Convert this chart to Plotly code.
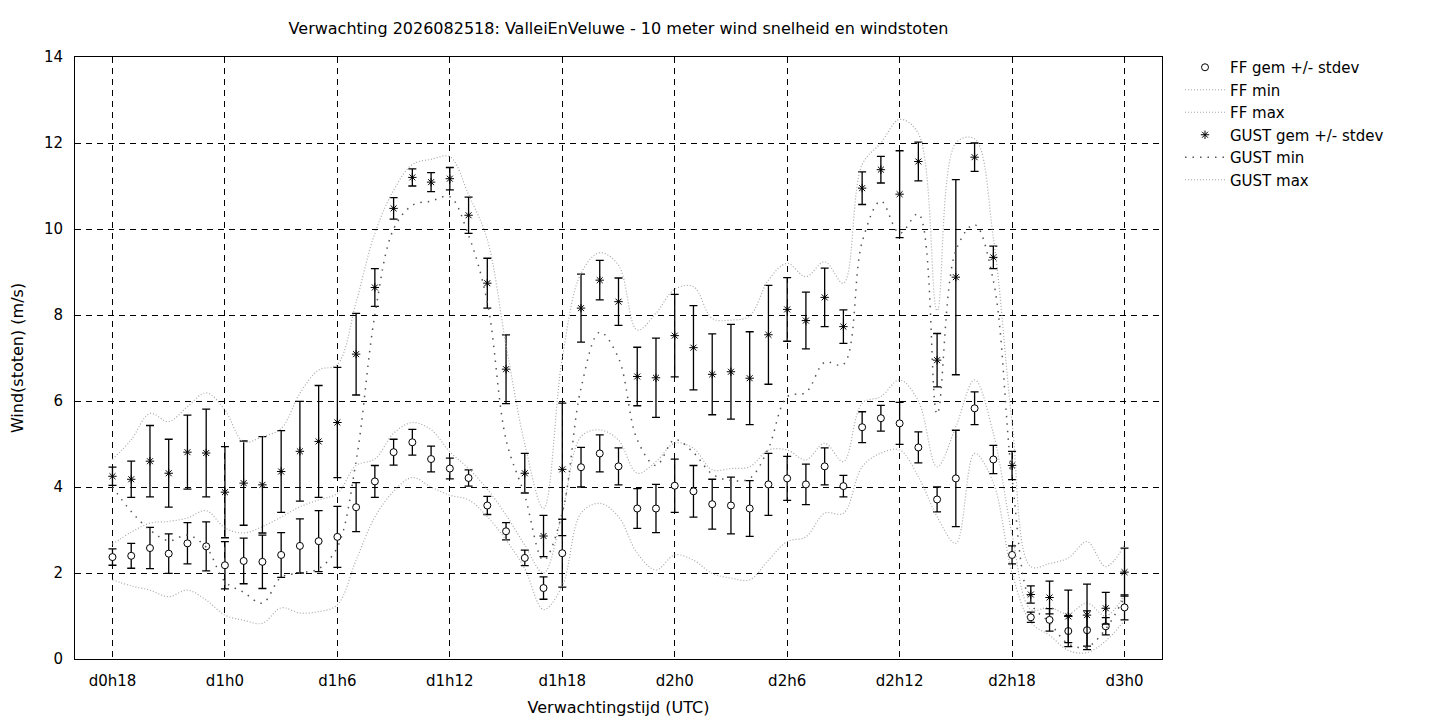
import plotly.graph_objects as go

# forecast hour (hours after d0h0)
hours = list(range(18, 73))

tick_vals = [18, 24, 30, 36, 42, 48, 54, 60, 66, 72]
tick_text = ["d0h18", "d1h0", "d1h6", "d1h12", "d1h18", "d2h0", "d2h6", "d2h12", "d2h18", "d3h0"]

ff_mean = [2.37, 2.40, 2.58, 2.45, 2.69, 2.62, 2.18, 2.28, 2.26, 2.42, 2.63, 2.74, 2.84, 3.53,
           4.13, 4.81, 5.04, 4.65, 4.43, 4.21, 3.57, 2.97, 2.35, 1.65, 2.46, 4.46, 4.78, 4.48,
           3.50, 3.50, 4.03, 3.90, 3.60, 3.57, 3.50, 4.06, 4.20, 4.06, 4.48, 4.02, 5.39, 5.60,
           5.48, 4.92, 3.71, 4.20, 5.83, 4.64, 2.42, 0.97, 0.91, 0.65, 0.67, 0.76, 1.20]
ff_sd = [0.19, 0.29, 0.48, 0.46, 0.48, 0.57, 0.55, 0.53, 0.62, 0.52, 0.63, 0.71, 0.71, 0.57,
         0.37, 0.30, 0.30, 0.30, 0.24, 0.19, 0.21, 0.20, 0.18, 0.26, 0.79, 0.46, 0.43, 0.43,
         0.46, 0.56, 0.62, 0.60, 0.58, 0.66, 0.65, 0.72, 0.51, 0.47, 0.43, 0.25, 0.36, 0.30,
         0.49, 0.36, 0.29, 1.12, 0.38, 0.33, 0.21, 0.12, 0.26, 0.36, 0.45, 0.20, 0.29]
ff_min = [1.84, 1.70, 1.60, 1.45, 1.60, 1.37, 1.02, 0.90, 0.83, 1.19, 1.07, 1.10, 1.26, 2.30,
          3.30, 3.90, 4.22, 4.00, 3.81, 3.70, 3.31, 2.77, 2.10, 1.15, 1.70, 3.39, 3.62, 3.31,
          2.46, 2.07, 2.42, 2.30, 1.99, 1.88, 1.84, 2.30, 2.73, 2.84, 3.39, 3.39, 4.47, 4.79,
          4.86, 4.24, 3.31, 2.69, 4.78, 4.10, 2.00, 0.85, 0.55, 0.20, 0.15, 0.42, 0.90]
ff_max = [2.67, 2.95, 3.16, 3.20, 3.28, 3.45, 3.05, 2.93, 3.08, 3.30, 3.54, 3.70, 3.85, 4.50,
          4.65, 5.25, 5.50, 5.33, 4.82, 4.43, 3.95, 3.35, 2.65, 2.00, 3.40, 5.17, 5.33, 5.09,
          4.32, 4.59, 5.02, 4.90, 4.40, 4.43, 4.47, 4.86, 4.86, 4.63, 5.02, 4.59, 5.95, 6.10,
          6.49, 6.00, 4.47, 5.40, 6.49, 5.25, 2.90, 1.15, 1.20, 1.05, 1.30, 1.00, 1.50]

gust_mean = [4.25, 4.18, 4.60, 4.32, 4.81, 4.79, 3.88, 4.09, 4.05, 4.36, 4.83, 5.06, 5.50, 7.09,
             8.64, 10.48, 11.20, 11.09, 11.17, 10.32, 8.74, 6.74, 4.32, 2.86, 4.41, 8.16, 8.81, 8.31,
             6.57, 6.54, 7.52, 7.24, 6.62, 6.68, 6.53, 7.54, 8.13, 7.87, 8.41, 7.73, 10.95, 11.38,
             10.81, 11.57, 6.95, 8.88, 11.67, 9.34, 4.50, 1.50, 1.43, 0.99, 1.02, 1.18, 2.02]
gust_sd = [0.21, 0.42, 0.83, 0.79, 0.86, 1.02, 1.06, 0.98, 1.12, 0.95, 1.16, 1.30, 1.28, 0.95,
           0.44, 0.25, 0.20, 0.22, 0.26, 0.42, 0.58, 0.80, 0.46, 0.48, 1.54, 0.79, 0.46, 0.55,
           0.68, 0.92, 0.96, 0.98, 0.94, 1.10, 1.08, 1.15, 0.74, 0.66, 0.68, 0.39, 0.38, 0.31,
           1.01, 0.45, 0.62, 2.27, 0.33, 0.26, 0.33, 0.20, 0.38, 0.61, 0.72, 0.37, 0.56]
gust_min = [4.00, 3.43, 3.00, 2.75, 2.88, 2.60, 1.80, 1.55, 1.30, 1.90, 2.00, 2.10, 2.60, 4.60,
            8.00, 10.00, 10.55, 10.65, 10.75, 9.85, 8.30, 5.10, 3.80, 2.30, 3.40, 6.30, 7.60, 7.00,
            5.10, 4.50, 5.10, 4.80, 4.30, 4.15, 4.20, 4.90, 6.10, 6.20, 6.90, 6.85, 9.70, 10.65,
            9.90, 10.35, 5.70, 9.50, 10.10, 8.80, 4.20, 1.30, 0.85, 0.35, 0.28, 0.70, 1.45]
gust_max = [4.64, 5.10, 5.71, 5.52, 5.87, 6.19, 5.79, 5.05, 5.17, 5.36, 6.18, 6.72, 6.85, 8.30,
            9.90, 10.90, 11.50, 11.62, 11.68, 10.80, 9.75, 7.30, 5.00, 3.50, 7.00, 8.97, 9.45, 9.16,
            7.65, 8.04, 8.60, 8.66, 7.92, 7.88, 7.98, 8.81, 9.20, 8.89, 9.24, 8.74, 11.50, 12.00,
            12.55, 12.22, 8.10, 12.00, 12.10, 9.80, 5.50, 2.15, 2.22, 2.35, 2.73, 2.15, 2.65]

FONT = "DejaVu Sans"
GRAY = "#a8a8a8"

fig = go.Figure()

fig.add_trace(go.Scatter(
    x=hours, y=ff_mean, mode="markers", name="FF gem +/- stdev",
    marker=dict(symbol="circle", size=7, color="white", line=dict(color="black", width=1)),
    error_y=dict(type="data", array=ff_sd, visible=True, color="black", thickness=1.3, width=4),
))
fig.add_trace(go.Scatter(
    x=hours, y=ff_min, mode="lines", name="FF min",
    line=dict(color=GRAY, width=1.2, dash="1px,2px", shape="spline", smoothing=1.0),
))
fig.add_trace(go.Scatter(
    x=hours, y=ff_max, mode="lines", name="FF max",
    line=dict(color=GRAY, width=1.2, dash="1px,2px", shape="spline", smoothing=1.0),
))
fig.add_trace(go.Scatter(
    x=hours, y=gust_mean, mode="markers", name="GUST gem +/- stdev",
    marker=dict(symbol="asterisk-open", size=7, color="black", line=dict(color="black", width=1)),
    error_y=dict(type="data", array=gust_sd, visible=True, color="black", thickness=1.3, width=4),
))
fig.add_trace(go.Scatter(
    x=hours, y=gust_min, mode="lines", name="GUST min",
    line=dict(color="#555555", width=1.5, dash="1.5px,6px", shape="spline", smoothing=1.0),
))
fig.add_trace(go.Scatter(
    x=hours, y=gust_max, mode="lines", name="GUST max",
    line=dict(color=GRAY, width=1.2, dash="1px,2px", shape="spline", smoothing=1.0),
))

axis_common = dict(
    showline=True, linecolor="black", linewidth=1, mirror=True, automargin=False,
    showgrid=True, gridcolor="black", gridwidth=1, griddash="6px,5px",
    zeroline=False, ticks="", tickfont=dict(family=FONT, size=15, color="black"),
)

# page has an 8px body margin, so the figure is offset by 8px; compensate in margins
ML, MT = 67, 49
PW, PH = 1087, 602

fig.update_layout(
    width=1440, height=720,
    margin=dict(l=ML, r=1440 - ML - PW, t=MT, b=720 - MT - PH),
    paper_bgcolor="white", plot_bgcolor="white",
    font=dict(family=FONT, size=16, color="black"),
    title=dict(text="Verwachting 2026082518: ValleiEnVeluwe - 10 meter wind snelheid en windstoten",
               x=(ML + PW / 2) / 1440, xanchor="center", y=1 - 20 / 720, yanchor="middle",
               font=dict(family=FONT, size=16, color="black")),
    xaxis=dict(range=[16, 74], tickvals=tick_vals, ticktext=tick_text, ticklabelstandoff=8,
               title=dict(text="Verwachtingstijd (UTC)", font=dict(family=FONT, size=16), standoff=12),
               **axis_common),
    yaxis=dict(range=[0, 14], tickvals=list(range(0, 15, 2)), ticklabelstandoff=8,
               title=dict(text="Wind(stoten) (m/s)", font=dict(family=FONT, size=16), standoff=20),
               **axis_common),
    showlegend=True,
    legend=dict(x=(1180 - 8 - ML) / PW, xanchor="left", y=1.0 + 6 / PH, yanchor="top",
                font=dict(family=FONT, size=15, color="black"),
                bgcolor="rgba(0,0,0,0)", tracegroupgap=0, itemwidth=40),
)

fig.write_html("out.html")
